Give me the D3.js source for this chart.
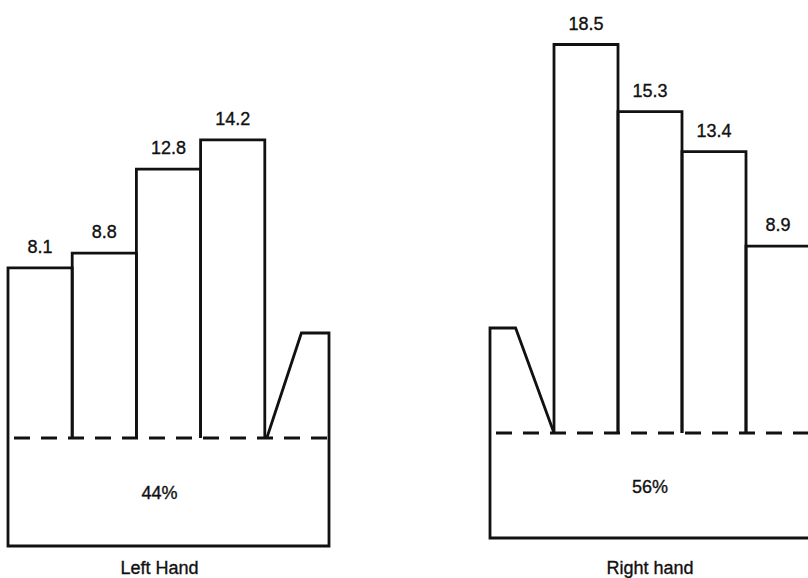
<!DOCTYPE html>
<html>
<head>
<meta charset="utf-8">
<script src="https://cdn.jsdelivr.net/npm/d3@7"></script>
<style>
  body { margin: 0; background: #fff; }
  svg text { font-family: "Liberation Sans", Arial, Helvetica, sans-serif; fill: #111; stroke: #111; stroke-width: 0.35; }
</style>
</head>
<body>
<div id="chart"></div>
<script>
// percentages by finger, thumbs carry no value
const leftFingers = ["Little", "Ring", "Middle", "Index"];
const leftValues = [8.1, 8.8, 12.8, 14.2];
const rightFingers = ["Index", "Middle", "Ring", "Little"];
const rightValues = [18.5, 15.3, 13.4, 8.9];
const handShares = ["44%", "56%"];
const handLabels = ["Left Hand", "Right hand"];
const thumbValue = 5;

const width = 808, height = 578;

const svg = d3.select("#chart").append("svg")
    .attr("width", width)
    .attr("height", height);

function drawHand(opts) {
    const g = svg.append("g");
    const order = opts.thumbSide === "right"
        ? opts.fingers.concat(["Thumb"])
        : ["Thumb"].concat(opts.fingers);

    const x = d3.scaleBand().domain(order).range([opts.x0, opts.x1]);
    const y = d3.scaleLinear().domain([0, 20]).range([opts.base, opts.base - 420]);
    const bw = x.bandwidth();

    const lineStyle = sel => sel
        .attr("fill", "none")
        .attr("stroke", "#111")
        .attr("stroke-width", 2.8)
        .attr("stroke-linejoin", "miter");

    // palm: sides and bottom solid, top dashed
    g.append("path")
        .attr("d", `M${opts.x0},${opts.base}V${opts.bottom}H${opts.x1}V${opts.base}`)
        .call(lineStyle);
    g.append("line")
        .attr("x1", opts.x0).attr("x2", opts.x1)
        .attr("y1", opts.base).attr("y2", opts.base)
        .attr("stroke-dasharray", "16,11")
        .attr("stroke-dashoffset", -6)
        .call(lineStyle);

    // fingers
    const data = opts.fingers.map((f, i) => ({ name: f, value: opts.values[i] }));
    g.selectAll("path.finger")
        .data(data)
        .enter().append("path")
        .attr("class", "finger")
        .attr("d", d => `M${x(d.name)},${opts.base}V${y(d.value)}H${x(d.name) + bw}V${opts.base}`)
        .call(lineStyle);

    g.selectAll("text.value")
        .data(data)
        .enter().append("text")
        .attr("class", "value")
        .attr("x", d => x(d.name) + bw / 2)
        .attr("y", d => y(d.value) - 15)
        .attr("text-anchor", "middle")
        .attr("font-size", 18)
        .text(d => d.value.toFixed(1));

    // thumb, slanted toward the palm
    const tx = x("Thumb");
    const ty = y(thumbValue);
    const thumbPath = opts.thumbSide === "right"
        ? `M${tx + 2},${opts.base}L${tx + bw * 0.57},${ty}H${tx + bw}V${opts.base}`
        : `M${tx},${opts.base}V${ty}H${tx + bw * 0.4}L${tx + bw},${opts.base}`;
    g.append("path").attr("d", thumbPath).call(lineStyle);

    const cx = (opts.x0 + opts.x1) / 2;
    g.append("text")
        .attr("x", cx - opts.labelShift)
        .attr("y", (opts.base + opts.bottom) / 2 + 7)
        .attr("text-anchor", "middle")
        .attr("font-size", 18)
        .text(opts.share);

    g.append("text")
        .attr("x", cx - opts.labelShift)
        .attr("y", 574)
        .attr("text-anchor", "middle")
        .attr("font-size", 18)
        .text(opts.label);
}

drawHand({
    fingers: leftFingers, values: leftValues, thumbSide: "right",
    x0: 8, x1: 329, base: 438, bottom: 546,
    share: handShares[0], label: handLabels[0], labelShift: 9
});

drawHand({
    fingers: rightFingers, values: rightValues, thumbSide: "left",
    x0: 490, x1: 810, base: 433, bottom: 538,
    share: handShares[1], label: handLabels[1], labelShift: 0
});
</script>
</body>
</html>
